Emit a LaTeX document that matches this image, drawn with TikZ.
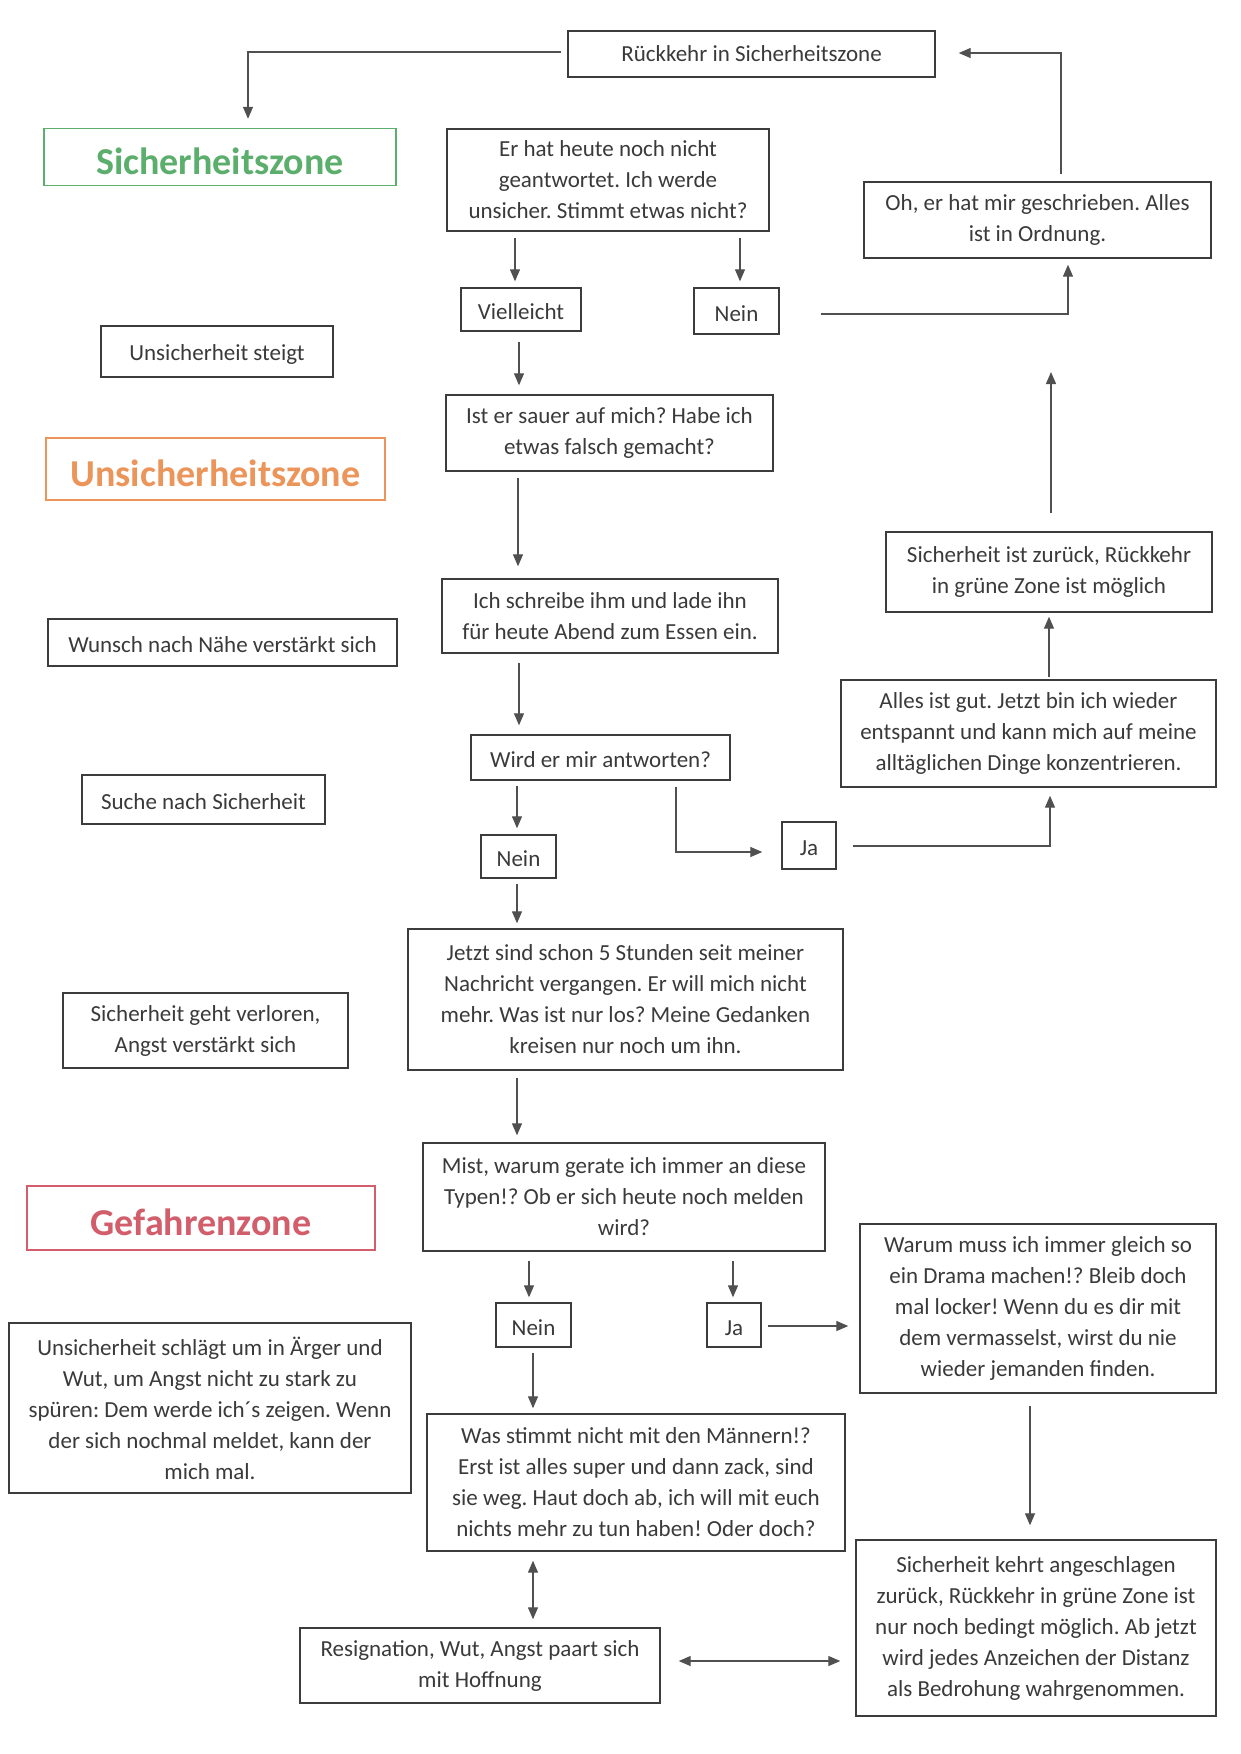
\documentclass[tikz,border=0pt]{standalone}
\usepackage{fontspec}
\setmainfont{Carlito}
\usetikzlibrary{arrows.meta}
\frenchspacing
\definecolor{txtgray}{HTML}{3A3A3A}
\definecolor{boxgray}{HTML}{3C3C3C}
\definecolor{arrgray}{HTML}{505050}
\definecolor{zgreen}{HTML}{5BAE6C}
\definecolor{zorange}{HTML}{EC955A}
\definecolor{zred}{HTML}{D25E6C}
\tikzset{
  box/.style={draw=boxgray, line width=1.4pt, text=txtgray, inner sep=0pt, align=center,
    font={\fontsize{23}{31}\selectfont\frenchspacing},
    execute at begin node={\rule{0pt}{21pt}}},
  zone/.style={draw=#1, line width=1.4pt, text=#1, inner sep=0pt, align=center,
    text height=34pt, text depth=0pt,
    font={\fontsize{38}{40}\selectfont\bfseries}},
  arr/.style={draw=arrgray, line width=1.3pt, -{Triangle[length=12pt,width=10pt]}},
  darr/.style={draw=arrgray, line width=1.3pt, {Triangle[length=12pt,width=10pt]}-{Triangle[length=12pt,width=10pt]}},
}
\begin{document}
\begin{tikzpicture}[x=1pt,y=-1pt]
\useasboundingbox[fill=white] (0,0) rectangle (1240,1754);

\node[box, text height=16pt, text depth=2pt, minimum width=367, minimum height=46] (rueck) at (751.5,54) {Rückkehr in Sicherheitszone};
\node[zone=zgreen, minimum width=352, minimum height=57] (sz) at (220,157) {Sicherheitszone};
\node[box, minimum width=322, minimum height=102] (erhat) at (608,180) {Er hat heute noch nicht\\geantwortet. Ich werde\\unsicher. Stimmt etwas nicht?};
\node[box, minimum width=347, minimum height=76] (oh) at (1037.5,220) {Oh, er hat mir geschrieben. Alles\\ist in Ordnung.};
\node[box, minimum width=120, minimum height=43] (viel) at (521,309.5) {Vielleicht};
\node[box, minimum width=85, minimum height=46] (nein1) at (736.5,311) {Nein};
\node[box, minimum width=232, minimum height=51] (unst) at (217,351.5) {Unsicherheit steigt};
\node[box, minimum width=327, minimum height=76] (sauer) at (609.5,433) {Ist er sauer auf mich? Habe ich\\etwas falsch gemacht?};
\node[zone=zorange, minimum width=339, minimum height=62] (usz) at (215.5,469) {Unsicherheitszone};
\node[box, minimum width=326, minimum height=80] (sichz) at (1049,572) {Sicherheit ist zurück, Rückkehr\\in grüne Zone ist möglich};
\node[box, minimum width=336, minimum height=74] (schreibe) at (610,616) {Ich schreibe ihm und lade ihn\\für heute Abend zum Essen ein.};
\node[box, minimum width=349, minimum height=47] (wunsch) at (222.5,642.5) {Wunsch nach Nähe verstärkt sich};
\node[box, minimum width=375, minimum height=107] (alles) at (1028.5,733.5) {Alles ist gut. Jetzt bin ich wieder\\entspannt und kann mich auf meine\\alltäglichen Dinge konzentrieren.};
\node[box, minimum width=259, minimum height=45] (wird) at (600.5,757.5) {Wird er mir antworten?};
\node[box, minimum width=243, minimum height=49] (suche) at (203.5,799.5) {Suche nach Sicherheit};
\node[box, minimum width=75, minimum height=43] (nein2) at (518.5,856.5) {Nein};
\node[box, minimum width=54, minimum height=47] (ja1) at (809,845.5) {Ja};
\node[box, minimum width=435, minimum height=141] (jetzt) at (625.5,999.5) {Jetzt sind schon 5 Stunden seit meiner\\Nachricht vergangen. Er will mich nicht\\mehr. Was ist nur los? Meine Gedanken\\kreisen nur noch um ihn.};
\node[box, minimum width=285, minimum height=75] (verloren) at (205.5,1030.5) {Sicherheit geht verloren,\\Angst verstärkt sich};
\node[box, minimum width=402, minimum height=108] (mist) at (624,1197) {Mist, warum gerate ich immer an diese\\Typen!? Ob er sich heute noch melden\\wird?};
\node[zone=zred, minimum width=348, minimum height=64] (gz) at (201,1218) {Gefahrenzone};
\node[box, minimum width=356, minimum height=169] (warum) at (1038,1308.5) {Warum muss ich immer gleich so\\ein Drama machen!? Bleib doch\\mal locker! Wenn du es dir mit\\dem vermasselst, wirst du nie\\wieder jemanden finden.};
\node[box, minimum width=75, minimum height=44] (nein3) at (533.5,1325) {Nein};
\node[box, minimum width=54, minimum height=44] (ja2) at (734,1325) {Ja};
\node[box, minimum width=402, minimum height=170] (schlaegt) at (210,1408) {Unsicherheit schlägt um in Ärger und\\Wut, um Angst nicht zu stark zu\\spüren: Dem werde ich´s zeigen. Wenn\\der sich nochmal meldet, kann der\\mich mal.};
\node[box, minimum width=418, minimum height=137] (stimmt) at (636,1482.5) {Was stimmt nicht mit den Männern!?\\Erst ist alles super und dann zack, sind\\sie weg. Haut doch ab, ich will mit euch\\nichts mehr zu tun haben! Oder doch?};
\node[box, minimum width=360, minimum height=176] (kehrt) at (1036,1628) {Sicherheit kehrt angeschlagen\\zurück, Rückkehr in grüne Zone ist\\nur noch bedingt möglich. Ab jetzt\\wird jedes Anzeichen der Distanz\\als Bedrohung wahrgenommen.};
\node[box, minimum width=360, minimum height=75] (resig) at (480,1665.5) {Resignation, Wut, Angst paart sich\\mit Hoffnung};

\coordinate (topfree) at (1051,372);

% connectors
\draw[arr] ([shift={(-6,-2)}]rueck.west) -| ([shift={(28,-9)}]sz.north);
\draw[arr] ([shift={(-93,6)}]erhat.south) -- ([shift={(-6,-6)}]viel.north);
\draw[arr] ([shift={(132,6)}]erhat.south) -- ([shift={(3.5,-6)}]nein1.north);
\draw[arr] ([shift={(41,3)}]nein1.east) -| ([shift={(30.5,6)}]oh.south);
\draw[arr] ([shift={(23.5,-7)}]oh.north) |- ([shift={(23,-1)}]rueck.east);
\draw[arr] ([shift={(-2,10)}]viel.south) -- ([shift={(-90.5,-9)}]sauer.north);
\draw[arr] ([shift={(-91.5,6)}]sauer.south) -- ([shift={(-92,-12)}]schreibe.north);
\draw[arr] ([shift={(-91,9)}]schreibe.south) -- ([shift={(-81.5,-9)}]wird.north);
\draw[arr] ([shift={(-83.5,5)}]wird.south) -- ([shift={(-1.5,-6)}]nein2.north);
\draw[arr] ([shift={(75.5,6)}]wird.south) |- ([shift={(-19,6.5)}]ja1.west);
\draw[arr] ([shift={(16,0.5)}]ja1.east) -| ([shift={(21.5,8)}]alles.south);
\draw[arr] ([shift={(20.5,-2)}]alles.north) -- ([shift={(0,4)}]sichz.south);
\draw[arr] ([shift={(2,-18)}]sichz.north) -- (topfree);
\draw[arr] ([shift={(-1.5,5)}]nein2.south) -- ([shift={(-108.5,-5)}]jetzt.north);
\draw[arr] ([shift={(-108.5,7)}]jetzt.south) -- ([shift={(-107,-7)}]mist.north);
\draw[arr] ([shift={(-95,9)}]mist.south) -- ([shift={(-4.5,-5)}]nein3.north);
\draw[arr] ([shift={(109,9)}]mist.south) -- ([shift={(-1,-5)}]ja2.north);
\draw[arr] ([shift={(6,1)}]ja2.east) -- ([shift={(-11,17.5)}]warum.west);
\draw[arr] ([shift={(-0.5,5)}]nein3.south) -- ([shift={(-103,-5)}]stimmt.north);
\draw[arr] ([shift={(-8,12)}]warum.south) -- ([shift={(-6,-14)}]kehrt.north);
\draw[darr] ([shift={(-103,9)}]stimmt.south) -- ([shift={(53,-8)}]resig.north);
\draw[darr] ([shift={(18,-4.5)}]resig.east) -- ([shift={(-15,33)}]kehrt.west);
\end{tikzpicture}
\end{document}
